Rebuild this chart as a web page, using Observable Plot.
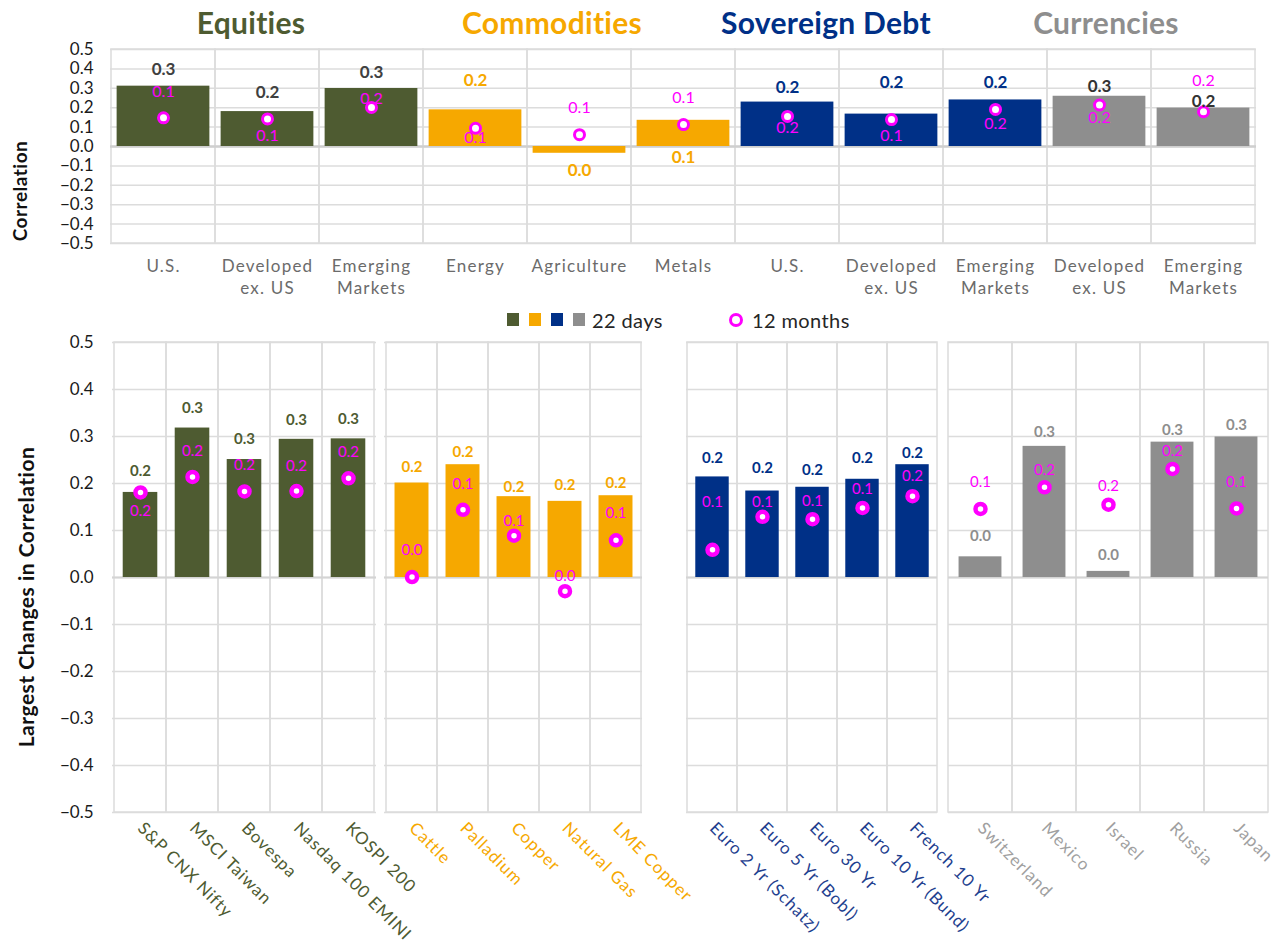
<!DOCTYPE html>
<html>
<head>
<meta charset="utf-8">
<script src="https://cdn.jsdelivr.net/npm/d3@7"></script>
<script src="https://cdn.jsdelivr.net/npm/@observablehq/plot@0.6"></script>
<style>
  body { margin: 0; background: #fff; font-family: Lato, "Open Sans", sans-serif; }
  #wrap { position: relative; width: 1284px; height: 947px; overflow: hidden; background: #fff; }
  .abs { position: absolute; white-space: nowrap; }
  .title { font-weight: 700; font-size: 30px; transform: translateX(-50%); top: 4px; letter-spacing: 0.3px; }
  .ytitle { font-weight: 700; color: #111; transform: translate(-50%, -50%) rotate(-90deg); letter-spacing: 0.5px; }
  svg { overflow: visible; }
  svg.topplot g[aria-label="x-axis tick label"] text { letter-spacing: 1.2px; }
  svg.botplot g[aria-label="x-axis tick label"] text { letter-spacing: 1px; }
</style>
</head>
<body>
<div id="wrap"></div>
<script>
// ---------------- DATA ----------------
const groups = ["Equities", "Commodities", "Sovereign Debt", "Currencies"];

// Top chart
const topLabels = ["U.S.", "Developed\nex. US", "Emerging\nMarkets", "Energy", "Agriculture", "Metals",
                   "U.S.", "Developed\nex. US", "Emerging\nMarkets", "Developed\nex. US", "Emerging\nMarkets"];
const topGroups = ["Equities", "Equities", "Equities", "Commodities", "Commodities", "Commodities",
                   "Sovereign Debt", "Sovereign Debt", "Sovereign Debt", "Currencies", "Currencies"];
const top22 = [0.311, 0.180, 0.299, 0.189, -0.035, 0.135, 0.229, 0.167, 0.240, 0.259, 0.198];
const top12 = [0.148, 0.142, 0.201, 0.094, 0.061, 0.113, 0.155, 0.139, 0.191, 0.214, 0.179];

// Bottom chart
const eqNames  = ["S&P CNX Nifty", "MSCI Taiwan", "Bovespa", "Nasdaq 100 EMINI", "KOSPI 200"];
const eq22     = [0.181, 0.318, 0.251, 0.294, 0.295];
const eq12     = [0.181, 0.214, 0.183, 0.184, 0.211];
const comNames = ["Cattle", "Palladium", "Copper", "Natural Gas", "LME Copper"];
const com22    = [0.201, 0.240, 0.172, 0.162, 0.174];
const com12    = [0.001, 0.144, 0.089, -0.029, 0.079];
const sovNames = ["Euro 2 Yr (Schatz)", "Euro 5 Yr (Bobl)", "Euro 30 Yr", "Euro 10 Yr (Bund)", "French 10 Yr"];
const sov22    = [0.214, 0.184, 0.192, 0.209, 0.240];
const sov12    = [0.059, 0.129, 0.124, 0.148, 0.173];
const curNames = ["Switzerland", "Mexico", "Israel", "Russia", "Japan"];
const cur22    = [0.044, 0.279, 0.013, 0.288, 0.299];
const cur12    = [0.146, 0.192, 0.155, 0.231, 0.147];

const yTicks = d3.range(-5, 6).map(i => i / 10);

// ---------------- STYLE ----------------
const FONT = "Lato, 'Open Sans', sans-serif";
const groupColor = {"Equities": "#4E5B31", "Commodities": "#F6A800", "Sovereign Debt": "#003087", "Currencies": "#8E8E8E"};
const MAGENTA = "#FF00FF";
const GRID = "#dcdcdc";
const topBarText = {"Equities": "#404040", "Commodities": "#F6A800", "Sovereign Debt": "#003087", "Currencies": "#333333"};
// label nudges (pixels), mimicking the original's label placement
const topBarDy = [-17, -19, -16, -29, 17, 37, -15, -32, -17, -10, -7];
const topDotDy = [-26, 17, -9, 10, -27, -27, 11, 16, 14, 13, -31];
const eqBarDy  = [-21, -20, -20, -19, -20];
const comBarDy = [-16, -13, -9, -16, -13];
const sovBarDy = [-19, -23, -17, -21, -12];
const curBarDy = [-21, -14, -16, -12, -12];
const eqDotDy  = [19, -26, -26, -25, -26];
const comDotDy = [-27, -26, -14, -15, -27];
const sovDotDy = [-48, -15, -18, -19, -20];
const curDotDy = [-27, -17, -18, -18, -26];

const fmt = v => { const s = d3.format(".1f")(v); return s === "-0.0" ? "0.0" : s; };
const wrap = document.getElementById("wrap");
function place(el, left, top) {
  el.style.position = "absolute"; el.style.left = left + "px"; el.style.top = top + "px";
  wrap.appendChild(el);
}
function div(html, cls, css) {
  const d = document.createElement("div");
  d.className = "abs " + (cls || ""); d.innerHTML = html;
  Object.assign(d.style, css || {});
  wrap.appendChild(d);
  return d;
}

// ---------------- TOP CHART ----------------
const topKeys = topLabels.map((l, i) => topGroups[i] + "|" + l);
const topData = topKeys.map((k, i) => ({key: k, group: topGroups[i], v22: top22[i], v12: top12[i]}));
const topW = 1284, topML = 110, topMR = 28;
const topStep = (topW - topML - topMR) / topKeys.length;

const topPlot = Plot.plot({
  width: topW, height: 310,
  marginTop: 49, marginBottom: 67, marginLeft: topML, marginRight: topMR,
  style: {fontFamily: FONT, fontSize: "15px", overflow: "visible", background: "transparent"},
  x: {domain: topKeys, padding: 0},
  y: {domain: [-0.5, 0.5]},
  color: {domain: groups, range: groups.map(g => groupColor[g])},
  marks: [
    Plot.ruleY(yTicks, {stroke: GRID, strokeWidth: 1.5}),
    Plot.barY(topKeys, {x: d => d, y1: -0.5, y2: 0.5, fill: "none", stroke: GRID, strokeWidth: 1.5}),
    Plot.ruleY([0], {stroke: "#cfcfcf", strokeWidth: 2.5}),
    Plot.axisY(yTicks, {tickFormat: fmt, tickSize: 0, tickPadding: 17, fontSize: 17, fill: "#1a1a1a", label: null}),
    Plot.axisX({tickFormat: k => k.split("|")[1], tickSize: 0, tickPadding: 13, fontSize: 17, fill: "#6b6b6b", lineHeight: 1.3, label: null}),
    Plot.barY(topData, {x: "key", y: "v22", fill: "group", insetLeft: topStep * 0.054, insetRight: topStep * 0.054}),
    Plot.dot(topData, {x: "key", y: "v12", r: 5, stroke: MAGENTA, strokeWidth: 3, fill: "white"}),
    topData.map((d, i) => Plot.text([d], {x: "key", y: "v22", text: d => fmt(d.v22), dy: topBarDy[i],
      fill: topBarText[d.group], fontWeight: "bold", fontSize: 17, lineAnchor: "middle"})),
    topData.map((d, i) => Plot.text([d], {x: "key", y: "v12", text: d => fmt(d.v12), dy: topDotDy[i],
      fill: MAGENTA, fontSize: 16, lineAnchor: "middle"}))
  ]
});
topPlot.classList.add("topplot");
place(topPlot, 0, 0);

// Titles
[["Equities", 251], ["Commodities", 552], ["Sovereign Debt", 826], ["Currencies", 1106]].forEach(([g, x]) => {
  div(g, "title", {left: x + "px", color: groupColor[g]});
});

div("Correlation", "ytitle", {left: "19px", top: "191px", fontSize: "19px"});
div("Largest Changes in Correlation", "ytitle", {left: "25px", top: "597px", fontSize: "21px"});

// ---------------- LEGEND ----------------
groups.forEach((g, i) => {
  div("", "", {left: (507 + i * 22) + "px", top: "313px", width: "12px", height: "13px", background: groupColor[g]});
});
div("22 days", "", {left: "592px", top: "308px", lineHeight: "24px", fontSize: "20px", color: "#262626", letterSpacing: "0.4px"});
div("", "", {left: "729px", top: "313px", width: "14px", height: "14px", border: "3px solid " + MAGENTA, borderRadius: "50%", boxSizing: "border-box"});
div("12 months", "", {left: "752px", top: "308px", lineHeight: "24px", fontSize: "20px", color: "#262626", letterSpacing: "0.4px"});

// ---------------- BOTTOM CHART ----------------
const tickColor = {"Equities": "#4E5B31", "Commodities": "#F6A800", "Sovereign Debt": "#1F3F8F", "Currencies": "#A0A0A0"};
const botBarText = {"Equities": "#4E5B31", "Commodities": "#F6A800", "Sovereign Debt": "#003087", "Currencies": "#8E8E8E"};

function bottom(names, v22, v12, group, left, plotW, ml, showY, barDy, dotDy) {
  const step = plotW / names.length;
  const extraR = 90;
  const data = names.map((n, i) => ({name: n, v22: v22[i], v12: v12[i]}));
  const marks = [
    Plot.ruleY(yTicks, {stroke: GRID, strokeWidth: 1.5}),
    Plot.barY(names, {x: d => d, y1: -0.5, y2: 0.5, fill: "none", stroke: GRID, strokeWidth: 1.5}),
    Plot.ruleY([0], {stroke: "#d4d4d4", strokeWidth: 2}),
    Plot.axisX({tickRotate: 45, tickSize: 0, tickPadding: 13, fontSize: 17, fill: tickColor[group], label: null}),
    Plot.barY(data, {x: "name", y: "v22", fill: groupColor[group], insetLeft: step * 0.165, insetRight: step * 0.165}),
    Plot.dot(data, {x: "name", y: "v12", r: 5, stroke: MAGENTA, strokeWidth: 4.5, fill: "white"}),
    data.map((d, i) => Plot.text([d], {x: "name", y: "v22", text: d => fmt(d.v22), dy: barDy[i],
      fill: botBarText[group], fontWeight: "bold", fontSize: 15, lineAnchor: "middle"})),
    data.map((d, i) => Plot.text([d], {x: "name", y: "v12", text: d => fmt(d.v12), dy: dotDy[i],
      fill: MAGENTA, fontSize: 15, lineAnchor: "middle"}))
  ];
  if (showY) marks.push(Plot.axisY(yTicks, {tickFormat: fmt, tickSize: 0, tickPadding: 19, fontSize: 17, fill: "#1a1a1a", label: null}));
  const p = Plot.plot({
    width: ml + plotW + extraR, height: 625,
    marginTop: 20, marginBottom: 135, marginLeft: ml, marginRight: extraR,
    style: {fontFamily: FONT, fontSize: "15px", overflow: "visible", background: "transparent"},
    x: {domain: names, padding: 0},
    y: {domain: [-0.5, 0.5], axis: showY ? undefined : null},
    marks
  });
  p.classList.add("botplot");
  place(p, left, 322);
}

bottom(eqNames, eq22, eq12, "Equities", 0, 264, 112, true, eqBarDy, eqDotDy);
bottom(comNames, com22, com12, "Commodities", 384, 258, 0, false, comBarDy, comDotDy);
bottom(sovNames, sov22, sov12, "Sovereign Debt", 686, 251, 0, false, sovBarDy, sovDotDy);
bottom(curNames, cur22, cur12, "Currencies", 948, 320, 0, false, curBarDy, curDotDy);
</script>
</body>
</html>
